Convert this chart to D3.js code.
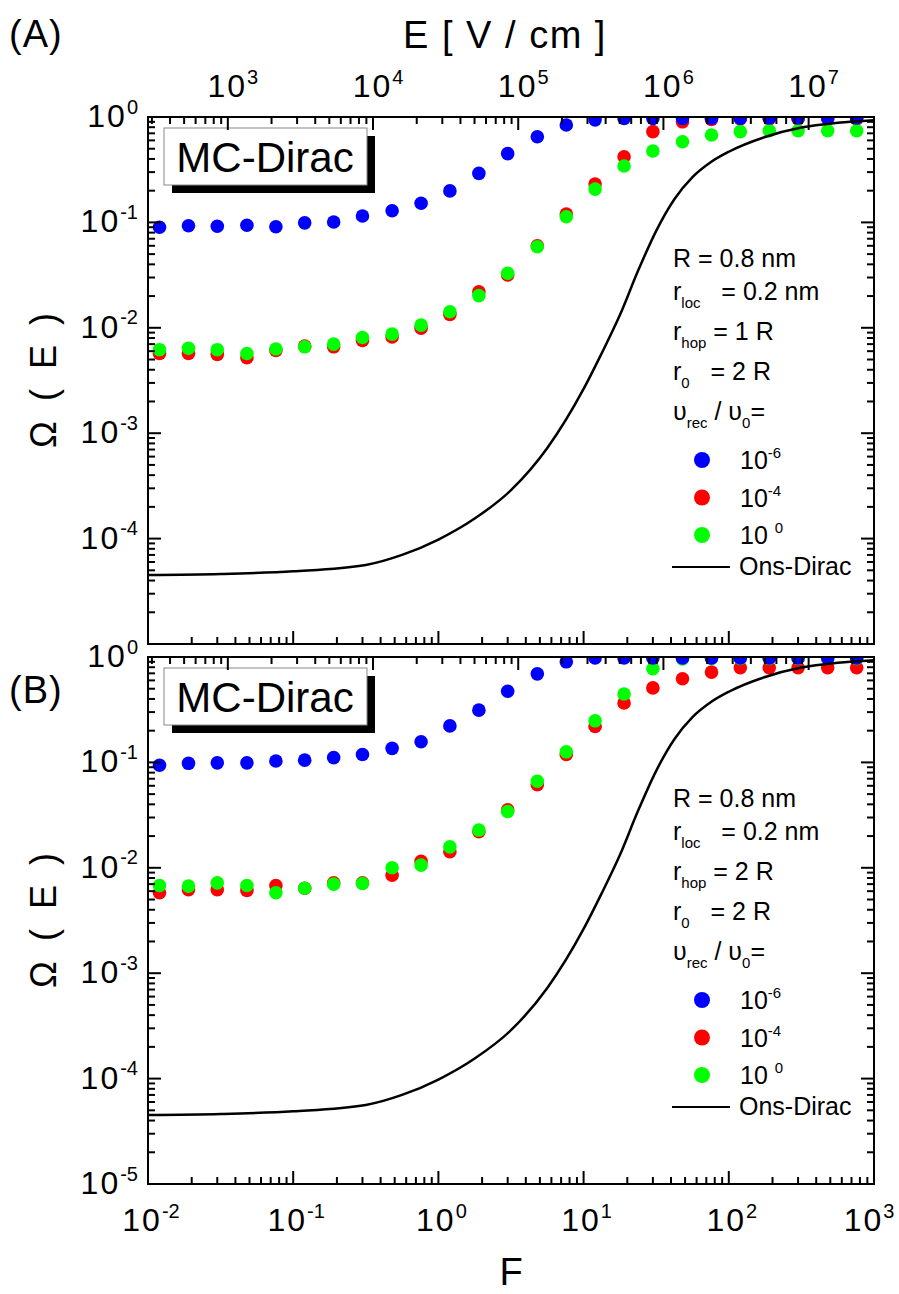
<!DOCTYPE html>
<html>
<head>
<meta charset="utf-8">
<script src="https://cdn.jsdelivr.net/npm/d3@7"></script>
<style>
  body { margin: 0; background: #fff; }
  text { font-family: "Liberation Sans", Arial, sans-serif; fill: #000; }
</style>
</head>
<body>
<div id="chart"></div>
<script>
// SVG dimensions
var w = 899;
var h = 1294;
var left = 148;
var right = 874;

// Data: F values shared by all MC series
var fValues = [0.012, 0.019, 0.030, 0.048, 0.076, 0.12, 0.19, 0.30, 0.48, 0.76,
  1.2, 1.9, 3.0, 4.8, 7.6, 12, 19, 30, 48, 76, 120, 190, 300, 480, 760];

// Panel A (r_hop = 1 R)
var blueA = [0.090, 0.093, 0.092, 0.094, 0.091, 0.099, 0.101, 0.115, 0.129, 0.152,
  0.199, 0.292, 0.449, 0.650, 0.84, 0.94, 0.97, 0.97, 0.97, 0.975, 0.975, 0.98, 0.98, 0.98, 0.98];
var redA = [0.0057, 0.0057, 0.0056, 0.0052, 0.0061, 0.0067, 0.0066, 0.0076, 0.0082, 0.0099,
  0.0134, 0.0220, 0.0317, 0.060, 0.120, 0.231, 0.42, 0.726, 0.90, 0.95, 0.96, 0.96, 0.96, 0.96, 0.96];
var greenA = [0.0062, 0.0064, 0.0062, 0.0057, 0.0063, 0.0066, 0.0070, 0.0081, 0.0087, 0.0106,
  0.0142, 0.0202, 0.0329, 0.0588, 0.113, 0.207, 0.343, 0.476, 0.583, 0.675, 0.726, 0.741, 0.741, 0.741, 0.741];

// Panel B (r_hop = 2 R)
var blueB = [0.094, 0.098, 0.099, 0.099, 0.103, 0.105, 0.111, 0.119, 0.136, 0.157,
  0.222, 0.313, 0.473, 0.692, 0.90, 0.98, 0.98, 0.98, 0.98, 0.98, 0.98, 0.98, 0.98, 0.98, 0.98];
var redB = [0.0058, 0.0062, 0.0062, 0.0061, 0.0068, 0.0064, 0.0072, 0.0072, 0.0085, 0.0115,
  0.0142, 0.0220, 0.0355, 0.0615, 0.119, 0.219, 0.366, 0.509, 0.621, 0.719, 0.79, 0.79, 0.79, 0.79, 0.79];
var greenB = [0.0068, 0.0067, 0.0072, 0.0068, 0.0058, 0.0064, 0.0070, 0.0071, 0.0100, 0.0106,
  0.0158, 0.0228, 0.0342, 0.0662, 0.126, 0.248, 0.446, 0.773, 0.96, 0.97, 0.97, 0.97, 0.97, 0.97, 0.97];

// Onsager (Dirac) curve
var onsF = [0.01, 0.0316, 0.1, 0.316, 0.562, 1, 1.778, 3.162, 5.623, 10, 13.34, 17.78,
  23.71, 31.62, 42.17, 56.23, 74.99, 100, 177.8, 316.2, 562.3, 1000];
var onsOmega = [4.52e-5, 4.62e-5, 4.9e-5, 5.62e-5, 7.0e-5, 9.8e-5, 1.55e-4, 2.88e-4, 7.24e-4,
  2.63e-3, 5.75e-3, 0.0132, 0.0347, 0.0832, 0.166, 0.269, 0.372, 0.468, 0.646, 0.794, 0.881, 0.933];

// Conversion F -> E [V/cm]
var eFactor = 28200;

var fTickExp = [-2, -1, 0, 1, 2, 3];
var eTickExp = [3, 4, 5, 6, 7];
var colors = { blue: '#0000ff', red: '#ff0000', green: '#00ff00' };

var panelDefs = [
  { id: 'A', top: 117, bottom: 644, rhop: '1 R', blue: blueA, red: redA, green: greenA,
    yLabels: [0, -1, -2, -3, -4], showE: true, showF: false },
  { id: 'B', top: 657, bottom: 1184, rhop: '2 R', blue: blueB, red: redB, green: greenB,
    yLabels: [0, -1, -2, -3, -4, -5], showE: false, showF: true }
];

var svg = d3.select('#chart')
  .append('svg')
  .attr('width', w)
  .attr('height', h);

var xScale = d3.scaleLog().domain([1e-2, 1e3]).range([left, right]);
var eScale = d3.scaleLog().domain([1e-2 * eFactor, 1e3 * eFactor]).range([left, right]);

var minorTicks = function (scale) {
  var dom = scale.domain().slice().sort((a, b) => a - b);
  var out = [];
  for (var e = Math.floor(Math.log10(dom[0])); e <= Math.ceil(Math.log10(dom[1])); e++) {
    for (var m = 2; m <= 9; m++) {
      var v = m * Math.pow(10, e);
      if (v >= dom[0] && v <= dom[1]) out.push(v);
    }
  }
  return out;
};
var majorTicks = function (scale) {
  var dom = scale.domain().slice().sort((a, b) => a - b);
  var out = [];
  for (var e = Math.ceil(Math.log10(dom[0]) - 1e-9); e <= Math.floor(Math.log10(dom[1]) + 1e-9); e++) {
    out.push(Math.pow(10, e));
  }
  return out;
};

// inward ticks drawn as lines
var drawTicks = function (g, scale, orient, pos) {
  var all = majorTicks(scale).map(v => ({ v: v, len: 13 }))
    .concat(minorTicks(scale).map(v => ({ v: v, len: 7 })));
  var horiz = orient === 'top' || orient === 'bottom';
  var sign = (orient === 'bottom' || orient === 'right') ? -1 : 1;
  g.selectAll(null)
    .data(all)
    .enter()
    .append('line')
    .attr('x1', d => horiz ? scale(d.v) : pos)
    .attr('x2', d => horiz ? scale(d.v) : pos + sign * d.len)
    .attr('y1', d => horiz ? pos : scale(d.v))
    .attr('y2', d => horiz ? pos + sign * d.len : scale(d.v))
    .attr('stroke', '#000')
    .attr('stroke-width', 2);
};

// "10^n" label
var powLabel = function (g, x, y, exp, anchor, size, supSize) {
  var t = g.append('text')
    .attr('x', x)
    .attr('y', y)
    .attr('text-anchor', anchor)
    .attr('font-size', size);
  t.append('tspan').attr('letter-spacing', 2).text('10');
  t.append('tspan').attr('font-size', supSize).attr('dy', -size * 0.42).text(exp);
  return t;
};

panelDefs.forEach(function (p) {
  var g = svg.append('g').attr('id', 'panel-' + p.id);
  var yScale = d3.scaleLog().domain([1e-5, 1]).range([p.bottom, p.top]);
  p.yScale = yScale;

  var clipId = 'clip-' + p.id;
  svg.append('clipPath').attr('id', clipId)
    .append('rect')
    .attr('x', left).attr('y', p.top)
    .attr('width', right - left).attr('height', p.bottom - p.top);

  // MC points
  var dotsG = g.append('g').attr('clip-path', `url(#${clipId})`);
  [['red', p.red], ['green', p.green], ['blue', p.blue]].forEach(function (s) {
    dotsG.selectAll('circle.' + s[0])
      .data(s[1])
      .enter()
      .append('circle')
      .attr('class', s[0])
      .attr('cx', (d, i) => xScale(fValues[i]))
      .attr('cy', d => yScale(d))
      .attr('r', 6.8)
      .attr('fill', colors[s[0]]);
  });

  // Onsager curve
  var line = d3.line()
    .x((d, i) => xScale(onsF[i]))
    .y(d => yScale(d))
    .curve(d3.curveMonotoneX);
  g.append('path')
    .datum(onsOmega)
    .attr('clip-path', `url(#${clipId})`)
    .attr('d', line)
    .attr('fill', 'none')
    .attr('stroke', '#000')
    .attr('stroke-width', 2.5);

  // frame
  g.append('rect')
    .attr('x', left).attr('y', p.top)
    .attr('width', right - left).attr('height', p.bottom - p.top)
    .attr('fill', 'none')
    .attr('stroke', '#000')
    .attr('stroke-width', 2);

  // y labels
  p.yLabels.forEach(function (e) {
    powLabel(g, 138, yScale(Math.pow(10, e)) + 10, String(e), 'end', 32, 20);
  });

  if (p.showE) {
    eTickExp.forEach(function (e) {
      powLabel(g, eScale(Math.pow(10, e)) + 5, 97, String(e), 'middle', 32, 20);
    });
  }
  if (p.showF) {
    fTickExp.forEach(function (e) {
      var x = Math.min(xScale(Math.pow(10, e)) + 3, 869);
      powLabel(g, x, 1231, String(e), 'middle', 32, 20);
    });
  }

  // y axis title
  g.append('text')
    .attr('transform', `translate(56, ${(p.top + p.bottom) / 2}) rotate(-90)`)
    .attr('text-anchor', 'middle')
    .attr('font-size', 36)
    .style('white-space', 'pre')
    .text('Ω  (  E  )');

  // MC-Dirac box
  var bx = 164, by = p.top + 11;
  g.append('rect')
    .attr('x', bx + 8).attr('y', by + 8)
    .attr('width', 203).attr('height', 57)
    .attr('fill', '#000');
  g.append('rect')
    .attr('x', bx).attr('y', by)
    .attr('width', 203).attr('height', 57)
    .attr('fill', '#fff')
    .attr('stroke', '#888')
    .attr('stroke-width', 1);
  g.append('text')
    .attr('x', bx + 101).attr('y', by + 44)
    .attr('text-anchor', 'middle')
    .attr('font-size', 42)
    .text('MC-Dirac');

  // legend / parameters
  var lx = 673;
  var t0 = p.top;
  var fs = 25, sub = 15;
  var addSubText = function (y, parts) {
    var t = g.append('text').attr('x', lx).attr('y', y).attr('font-size', fs)
      .style('white-space', 'pre');
    parts.forEach(function (pt) {
      if (pt.sub) {
        t.append('tspan').attr('font-size', sub).attr('dy', 8).text(pt.sub);
      } else {
        t.append('tspan').attr('dy', pt.after ? -8 : 0).text(pt.t);
      }
    });
  };
  g.append('text').attr('x', lx).attr('y', t0 + 150).attr('font-size', fs).text('R = 0.8 nm');
  addSubText(t0 + 183, [{ t: 'r' }, { sub: 'loc' }, { t: '   = 0.2 nm', after: true }]);
  addSubText(t0 + 223, [{ t: 'r' }, { sub: 'hop' }, { t: ' = ' + p.rhop, after: true }]);
  addSubText(t0 + 263, [{ t: 'r' }, { sub: '0' }, { t: '   = 2 R', after: true }]);
  addSubText(t0 + 303, [{ t: 'υ' }, { sub: 'rec' }, { t: ' / υ', after: true }, { sub: '0' }, { t: '=', after: true }]);

  var legendItems = [['blue', '-6'], ['red', '-4'], ['green', ' 0']];
  legendItems.forEach(function (it, i) {
    var cy = t0 + 343 + i * 37.5;
    g.append('circle').attr('cx', 702).attr('cy', cy).attr('r', 8).attr('fill', colors[it[0]]);
    var t = g.append('text').attr('x', 740).attr('y', cy + 9).attr('font-size', fs)
      .style('white-space', 'pre');
    t.append('tspan').text(it[1] === ' 0' ? '10 ' : '10');
    t.append('tspan').attr('font-size', sub).attr('dy', -11).text(it[1].trim());
  });
  g.append('line')
    .attr('x1', 672).attr('x2', 730)
    .attr('y1', t0 + 450).attr('y2', t0 + 450)
    .attr('stroke', '#000').attr('stroke-width', 2);
  g.append('text').attr('x', 739).attr('y', t0 + 458).attr('font-size', fs).text('Ons-Dirac');

  // panel label
  g.append('text')
    .attr('x', 9)
    .attr('y', p.id === 'A' ? 47 : 703)
    .attr('font-size', 38)
    .attr('letter-spacing', 1)
    .text('(' + p.id + ')');
});

// ticks on top of everything
var tickLayer = svg.append('g').attr('id', 'ticks');
panelDefs.forEach(function (p) {
  drawTicks(tickLayer, xScale, 'bottom', p.bottom);
  drawTicks(tickLayer, eScale, 'top', p.top);
  drawTicks(tickLayer, p.yScale, 'left', left);
  drawTicks(tickLayer, p.yScale, 'right', right);
});

// axis titles
svg.append('text')
  .attr('x', 505).attr('y', 48)
  .attr('text-anchor', 'middle')
  .attr('font-size', 38)
  .attr('letter-spacing', 1.5)
  .style('white-space', 'pre')
  .text('E [ V / cm ]');

svg.append('text')
  .attr('x', 511).attr('y', 1285)
  .attr('text-anchor', 'middle')
  .attr('font-size', 38)
  .text('F');
</script>
</body>
</html>
